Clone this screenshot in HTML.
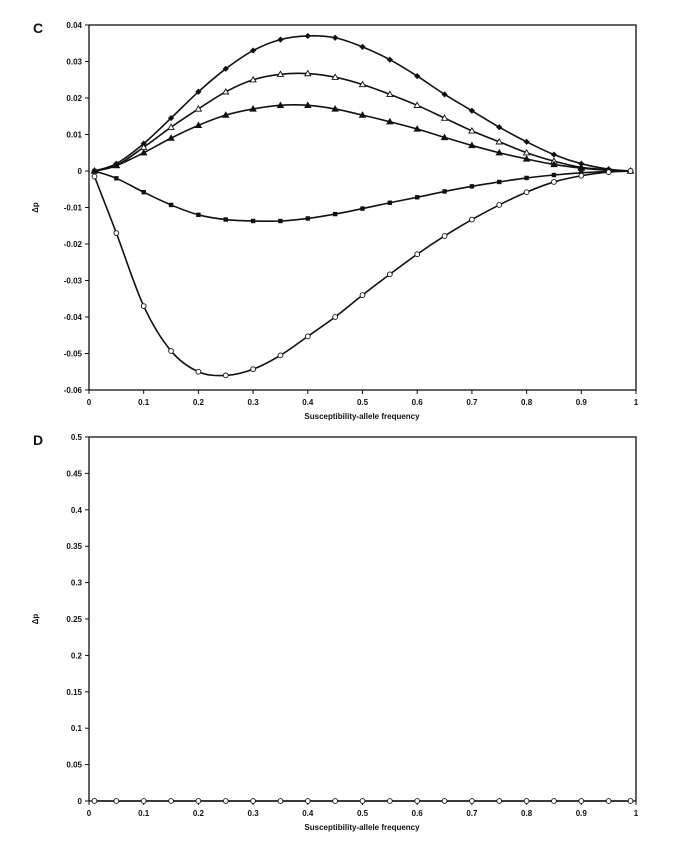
<!DOCTYPE html>
<html><head><meta charset="utf-8"><style>
body{margin:0;background:#fff;width:683px;height:863px;overflow:hidden}
text{font-family:"Liberation Sans",sans-serif;font-weight:bold;font-size:8px;fill:#111}
</style></head><body>
<svg id="s" width="683" height="863" xmlns="http://www.w3.org/2000/svg"></svg>
<script>
const s=document.getElementById('s');let h='';
const X=v=>89+v*547;
const xs=[0.01,0.05,0.1,0.15,0.2,0.25,0.3,0.35,0.4,0.45,0.5,0.55,0.6,0.65,0.7,0.75,0.8,0.85,0.9,0.95,0.99];
function axes(top,bot,ticks,lab){
 h+=`<rect x="89" y="${top}" width="547" height="${bot-top}" fill="none" stroke="#111" stroke-width="1.3"/>`;
 const n=ticks.length-1;
 ticks.forEach((t,i)=>{const y=top+(bot-top)*i/n;h+=`<line x1="85" x2="89" y1="${y}" y2="${y}" stroke="#111"/><text x="82" y="${y+3}" text-anchor="end">${t}</text>`;});
 for(let i=0;i<=10;i++){const x=X(i/10);h+=`<line x1="${x}" x2="${x}" y1="${bot}" y2="${bot+4}" stroke="#111"/><text x="${x}" y="${bot+15}" text-anchor="middle">${i==0?'0':i==10?'1':(i/10)}</text>`;}
 h+=`<text x="362" y="${bot+29}" text-anchor="middle">Susceptibility-allele frequency</text>`;
 h+=`<text x="38" y="${(top+bot)/2}" transform="rotate(-90 38 ${(top+bot)/2})" text-anchor="middle">Δp</text>`;
 h+=`<text x="33" y="${top+8}" style="font-size:14px">${lab}</text>`;
}
axes(25,390,['0.04','0.03','0.02','0.01','0','-0.01','-0.02','-0.03','-0.04','-0.05','-0.06'],'C');
axes(437,801,['0.5','0.45','0.4','0.35','0.3','0.25','0.2','0.15','0.1','0.05','0'],'D');
const YC=v=>171-v*3650;
function series(d,Y,mk){
 const p=xs.map((x,i)=>[X(x),Y(d[i])]);
 let path='M'+p[0];for(let i=1;i<p.length;i++){const a=p[i-2]||p[i-1],b=p[i-1],c=p[i],e=p[i+1]||c;
 path+=`C${b[0]+(c[0]-a[0])/6},${b[1]+(c[1]-a[1])/6} ${c[0]-(e[0]-b[0])/6},${c[1]-(e[1]-b[1])/6} ${c[0]},${c[1]}`;}
 h+=`<path d="${path}" fill="none" stroke="#111" stroke-width="1.6"/>`;
 p.forEach(([x,y])=>{
  if(mk=='d')h+=`<rect x="${x-2.2}" y="${y-2.2}" width="4.4" height="4.4" transform="rotate(45 ${x} ${y})" fill="#111"/>`;
  if(mk=='s')h+=`<rect x="${x-2.2}" y="${y-2.2}" width="4.4" height="4.4" fill="#111"/>`;
  if(mk=='t'||mk=='T')h+=`<polygon points="${x},${y-3} ${x+3},${y+2.2} ${x-3},${y+2.2}" fill="${mk=='t'?'#111':'#fff'}" stroke="#111" stroke-width="0.9"/>`;
  if(mk=='o')h+=`<circle cx="${x}" cy="${y}" r="2.4" fill="#fff" stroke="#111" stroke-width="0.9"/>`;
 });
}
series([0,.002,.0075,.0145,.0217,.028,.033,.036,.037,.0365,.034,.0305,.026,.021,.0165,.012,.008,.0045,.002,.0005,0],YC,'d');
series([0,.0015,.0065,.012,.017,.0217,.025,.0265,.0267,.0257,.0237,.021,.018,.0145,.011,.008,.005,.0027,.001,.0003,0],YC,'T');
series([0,.0015,.005,.009,.0125,.0153,.017,.018,.018,.017,.0153,.0135,.0115,.0092,.007,.005,.0033,.0018,.0008,.0002,0],YC,'t');
series([0,-.002,-.0058,-.0093,-.012,-.0133,-.0137,-.0137,-.013,-.0118,-.0103,-.0087,-.0072,-.0056,-.0042,-.003,-.0019,-.0011,-.0005,-.0001,0],YC,'s');
series([-.0015,-.017,-.037,-.0493,-.055,-.056,-.0543,-.0505,-.0453,-.04,-.034,-.0283,-.0228,-.0178,-.0133,-.0093,-.0058,-.003,-.0013,-.0003,0],YC,'o');
series(xs.map(()=>0),v=>801,'o');
s.innerHTML=h;
</script>
</body></html>
